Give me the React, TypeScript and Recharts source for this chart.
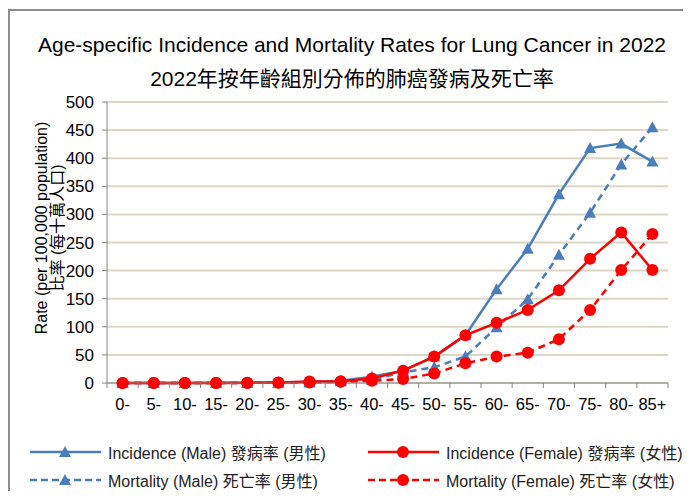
import { CartesianGrid, Line, LineChart, XAxis, YAxis } from 'recharts';

const ages = ['0-', '5-', '10-', '15-', '20-', '25-', '30-', '35-', '40-', '45-', '50-', '55-', '60-', '65-', '70-', '75-', '80-', '85+'];
const incidenceMale = [0.1, 0, 0.1, 0.3, 0.5, 0.9, 2, 4, 11, 22, 47, 85, 167, 239, 336, 418, 426, 394];
const mortalityMale = [0, 0, 0, 0.1, 0.2, 0.4, 1, 3, 6, 19, 28, 47, 99, 149, 228, 303, 389, 455];
const incidenceFemale = [0.1, 0, 0.1, 0.2, 0.5, 1, 2.5, 3, 8, 22, 47, 85, 107, 130, 165, 221, 268, 201];
const mortalityFemale = [0, 0, 0, 0.1, 0.2, 0.3, 0.8, 2, 4, 7, 17, 35, 47, 54, 78, 130, 201, 265];
const yTicks = [0, 50, 100, 150, 200, 250, 300, 350, 400, 450, 500];

const data = ages.map((age, i) => ({
  age,
  incM: incidenceMale[i],
  morM: mortalityMale[i],
  incF: incidenceFemale[i],
  morF: mortalityFemale[i],
}));

const BLUE = '#4a7ebb';
const RED = '#ff0000';
const AXIS = '#868686';
const FONT = '"Liberation Sans", Arial, "Noto Sans CJK TC", sans-serif';
const HALF_BAND = 561 / 18 / 2;

function Triangle({ cx, cy, color }: { cx?: number; cy?: number; color: string }) {
  if (cx == null || cy == null) return null;
  return <polygon points={`${cx},${cy - 6} ${cx + 6},${cy + 5} ${cx - 6},${cy + 5}`} fill={color} />;
}

function Circle({ cx, cy, color }: { cx?: number; cy?: number; color: string }) {
  if (cx == null || cy == null) return null;
  return <circle cx={cx} cy={cy} r={6} fill={color} />;
}

function AgeTick({ x, y, payload, index }: { x?: number; y?: number; payload?: { value: string }; index?: number }) {
  if (x == null || y == null) return null;
  const top = 383;
  return (
    <g>
      <line x1={x - HALF_BAND} x2={x - HALF_BAND} y1={top} y2={top + 5} stroke={AXIS} />
      {index === ages.length - 1 && <line x1={x + HALF_BAND} x2={x + HALF_BAND} y1={top} y2={top + 5} stroke={AXIS} />}
      <text x={x} y={top + 27} textAnchor="middle" fontSize={16.5} fill="#000" fontFamily={FONT}>
        {payload?.value}
      </text>
    </g>
  );
}

function LegendItem({ left, top, color, dashed, marker, label }: {
  left: number; top: number; color: string; dashed: boolean; marker: 'tri' | 'dot'; label: string;
}) {
  return (
    <div style={{ position: 'absolute', left, top, display: 'flex', alignItems: 'center', height: 20, whiteSpace: 'nowrap' }}>
      <svg width={72} height={16} style={{ marginRight: 6 }}>
        <line x1={0} x2={71} y1={8} y2={8} stroke={color} strokeWidth={2.5} strokeDasharray={dashed ? '7 4' : undefined} />
        {marker === 'tri' ? <Triangle cx={35} cy={8} color={color} /> : <Circle cx={35} cy={8} color={color} />}
      </svg>
      <span>{label}</span>
    </div>
  );
}

export default function App() {
  return (
    <div style={{ position: 'relative', width: 691, height: 499, margin: -8, background: '#fff', fontFamily: FONT, overflow: 'hidden' }}>
      <div style={{ position: 'absolute', left: 8, top: 9, width: 700, height: 500, borderTop: '2px solid #8e8e8e', borderLeft: '2px solid #8e8e8e' }} />
      <div style={{ position: 'absolute', left: 2, width: 700, top: 33, textAlign: 'center', fontSize: 21, color: '#000' }}>
        Age-specific Incidence and Mortality Rates for Lung Cancer in 2022
      </div>
      <div style={{ position: 'absolute', left: 2, width: 700, top: 62, textAlign: 'center', fontSize: 21, color: '#000' }}>
        2022年按年齡組別分佈的肺癌發病及死亡率
      </div>
      <LineChart width={691} height={499} data={data} margin={{ top: 102, right: 23, bottom: 86, left: 0 }}>
        <CartesianGrid vertical={false} stroke="#dcd7c4" strokeWidth={2} />
        <XAxis
          dataKey="age"
          padding={{ left: HALF_BAND, right: HALF_BAND }}
          tickLine={false}
          axisLine={{ stroke: AXIS }}
          tick={<AgeTick />}
          interval={0}
          height={30}
        />
        <YAxis
          domain={[0, 500]}
          ticks={yTicks}
          width={107}
          tickSize={5}
          tickLine={{ stroke: AXIS }}
          axisLine={{ stroke: AXIS }}
          tick={{ fill: '#000', fontSize: 17, fontFamily: FONT }}
          tickMargin={8}
          interval={0}
        />
        <Line dataKey="incM" stroke={BLUE} strokeWidth={2.5} dot={<Triangle color={BLUE} />} isAnimationActive={false} />
        <Line dataKey="morM" stroke={BLUE} strokeWidth={2.5} strokeDasharray="7 5" dot={<Triangle color={BLUE} />} isAnimationActive={false} />
        <Line dataKey="incF" stroke={RED} strokeWidth={2.5} dot={<Circle color={RED} />} isAnimationActive={false} />
        <Line dataKey="morF" stroke={RED} strokeWidth={2.5} strokeDasharray="7 5" dot={<Circle color={RED} />} isAnimationActive={false} />
      </LineChart>
      <div
        style={{
          position: 'absolute',
          left: 50,
          top: 228,
          transform: 'translate(-50%, -50%) rotate(-90deg)',
          whiteSpace: 'nowrap',
          textAlign: 'center',
          fontSize: 16,
          lineHeight: '16px',
          color: '#000',
        }}
      >
        Rate (per 100,000 population)
        <br />
        比率 (每十萬人口)
      </div>
      <div style={{ fontSize: 16, color: '#222' }}>
        <LegendItem left={30} top={442} color={BLUE} dashed={false} marker="tri" label="Incidence (Male) 發病率 (男性)" />
        <LegendItem left={30} top={470} color={BLUE} dashed marker="tri" label="Mortality (Male) 死亡率 (男性)" />
        <LegendItem left={368} top={442} color={RED} dashed={false} marker="dot" label="Incidence (Female) 發病率 (女性)" />
        <LegendItem left={368} top={470} color={RED} dashed marker="dot" label="Mortality (Female) 死亡率 (女性)" />
      </div>
    </div>
  );
}
